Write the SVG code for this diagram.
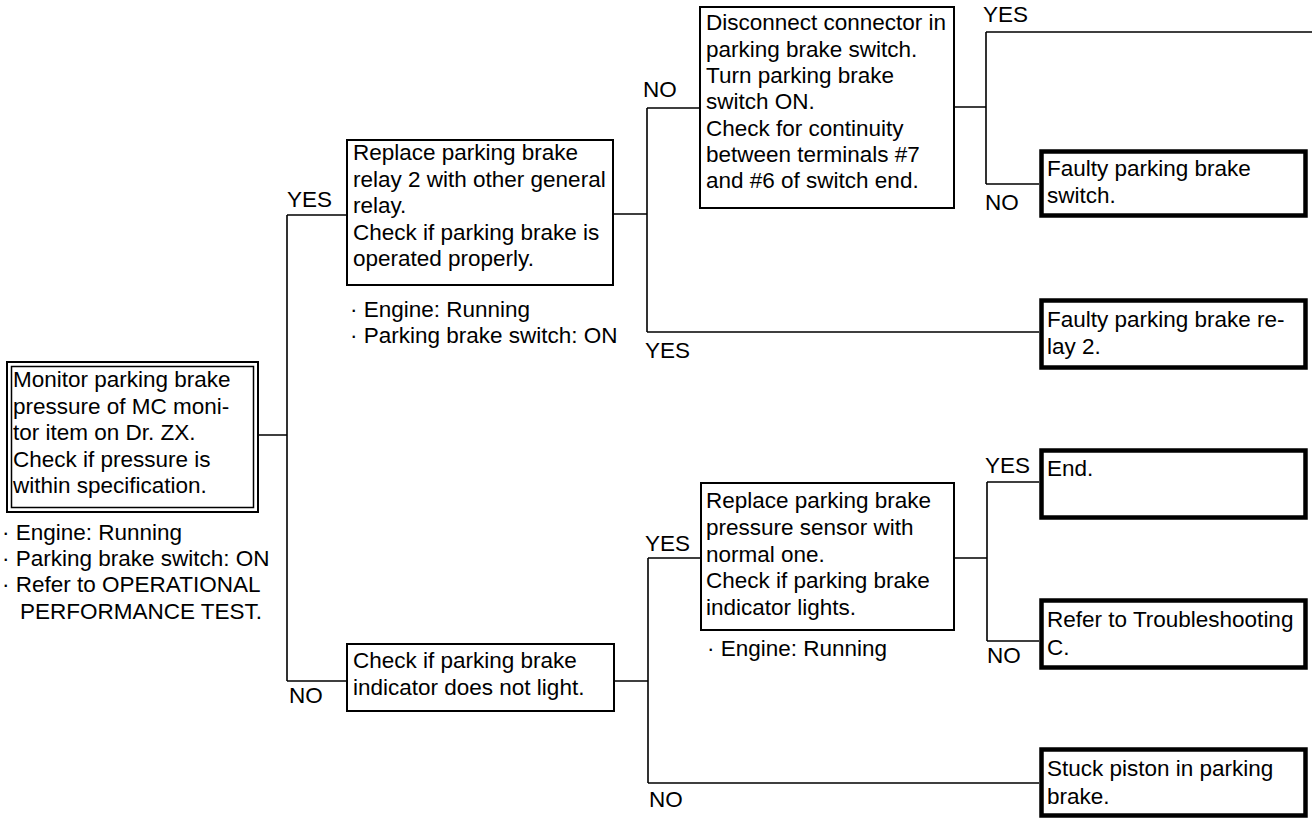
<svg xmlns="http://www.w3.org/2000/svg" width="1315" height="818" viewBox="0 0 1315 818">
  <style>
    text { font-family: "Liberation Sans", Arial, sans-serif; font-size: 22.5px; fill: #000; }
    .box { fill: #fff; stroke: #000; stroke-width: 2; }
    .end { fill: #fff; stroke: #000; stroke-width: 4.5; }
    .wire { fill: none; stroke: #000; stroke-width: 1.6; }
  </style>
  <rect width="1315" height="818" fill="#fff"/>

  <!-- branch lines -->
  <g id="connectors" class="wire">
    <path d="M258,435 H287 M287,215 V681 M287,215 H347 M287,681 H347"/>
    <path d="M613,214 H647 M647,108 V332 M647,108 H700 M647,332 H1039"/>
    <path d="M954,107 H986 M986,32 V184 M986,32 H1312 M986,184 H1039"/>
    <path d="M614,681 H648 M648,558 V783 M648,558 H701 M648,783 H1039"/>
    <path d="M954,558 H987 M987,482 V641 M987,482 H1039 M987,641 H1039"/>
  </g>

  <!-- branch labels -->
  <g id="labels">
    <text x="287" y="207">YES</text>
    <text x="289" y="703">NO</text>
    <text x="643" y="97">NO</text>
    <text x="645" y="358">YES</text>
    <text x="983" y="22">YES</text>
    <text x="985" y="210">NO</text>
    <text x="645" y="551">YES</text>
    <text x="649" y="807">NO</text>
    <text x="985" y="473">YES</text>
    <text x="987" y="663">NO</text>
  </g>

  <!-- start: pressure check -->
  <g id="start">
    <rect x="7" y="362" width="251" height="150" class="box"/>
    <rect x="11.5" y="366.5" width="242" height="141" fill="none" stroke="#000" stroke-width="1.5"/>
    <text x="13" y="387">Monitor parking brake</text>
    <text x="13" y="413.5">pressure of MC moni-</text>
    <text x="13" y="440">tor item on Dr. ZX.</text>
    <text x="13" y="466.5">Check if pressure is</text>
    <text x="13" y="493">within specification.</text>
    <text x="2" y="540">· Engine: Running</text>
    <text x="2" y="566">· Parking brake switch: ON</text>
    <text x="2" y="592">· Refer to OPERATIONAL</text>
    <text x="20" y="619">PERFORMANCE TEST.</text>
  </g>

  <g id="relay-swap">
    <rect x="347" y="140" width="266" height="145" class="box"/>
    <text x="353" y="160">Replace parking brake</text>
    <text x="353" y="186.5">relay 2 with other general</text>
    <text x="353" y="213">relay.</text>
    <text x="353" y="239.5">Check if parking brake is</text>
    <text x="353" y="266">operated properly.</text>
    <text x="350" y="317">· Engine: Running</text>
    <text x="350" y="343">· Parking brake switch: ON</text>
  </g>

  <g id="switch-continuity">
    <rect x="700" y="7" width="254" height="201" class="box"/>
    <text x="706" y="30">Disconnect connector in</text>
    <text x="706" y="56.5">parking brake switch.</text>
    <text x="706" y="83">Turn parking brake</text>
    <text x="706" y="109">switch ON.</text>
    <text x="706" y="135.5">Check for continuity</text>
    <text x="706" y="162">between terminals #7</text>
    <text x="706" y="188">and #6 of switch end.</text>
  </g>

  <g id="faulty-switch">
    <rect x="1041.5" y="151.5" width="264" height="64" class="end"/>
    <text x="1047" y="176">Faulty parking brake</text>
    <text x="1047" y="203">switch.</text>
  </g>

  <g id="faulty-relay">
    <rect x="1041.5" y="300.5" width="264" height="67" class="end"/>
    <text x="1047" y="327">Faulty parking brake re-</text>
    <text x="1047" y="354">lay 2.</text>
  </g>

  <g id="indicator-check">
    <rect x="347" y="644" width="267" height="67" class="box"/>
    <text x="353" y="668">Check if parking brake</text>
    <text x="353" y="695">indicator does not light.</text>
  </g>

  <g id="sensor-swap">
    <rect x="701" y="483" width="253" height="147" class="box"/>
    <text x="706" y="508">Replace parking brake</text>
    <text x="706" y="535">pressure sensor with</text>
    <text x="706" y="561.5">normal one.</text>
    <text x="706" y="588">Check if parking brake</text>
    <text x="706" y="615">indicator lights.</text>
    <text x="707" y="656">· Engine: Running</text>
  </g>

  <g id="end">
    <rect x="1041.5" y="450.5" width="264" height="67" class="end"/>
    <text x="1047" y="476">End.</text>
  </g>

  <g id="troubleshooting-c">
    <rect x="1041.5" y="600.5" width="264" height="67" class="end"/>
    <text x="1047" y="627">Refer to Troubleshooting</text>
    <text x="1047" y="655">C.</text>
  </g>

  <g id="stuck-piston">
    <rect x="1041.5" y="749.5" width="264" height="66" class="end"/>
    <text x="1047" y="776">Stuck piston in parking</text>
    <text x="1047" y="804">brake.</text>
  </g>
</svg>
